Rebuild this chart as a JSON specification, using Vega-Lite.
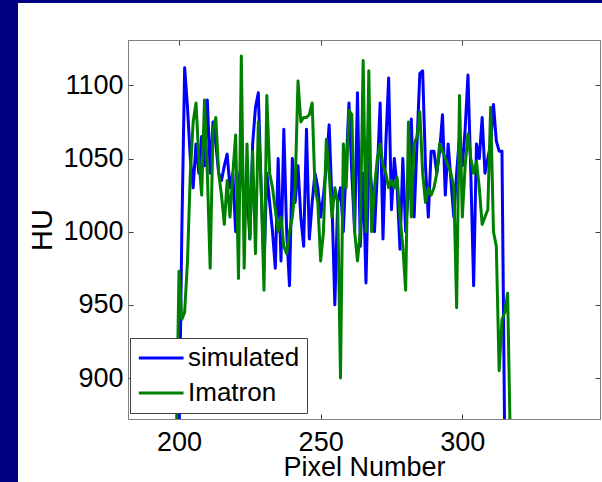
{
  "$schema": "https://vega.github.io/schema/vega-lite/v6.json",
  "padding": 0,
  "background": "white",
  "spacing": 0,
  "config": {
    "font": "Liberation Sans",
    "view": {"stroke": "#808080", "strokeWidth": 1}
  },
  "vconcat": [
    {
      "width": 602,
      "height": 3,
      "view": {"fill": "#000080", "stroke": null},
      "data": {"values": []},
      "mark": "point"
    },
    {
      "spacing": 9,
      "hconcat": [
        {
          "width": 18,
          "height": 479,
          "view": {"fill": "#000080", "stroke": null},
          "data": {"values": []},
          "mark": "point"
        },
        {
          "spacing": 0,
          "vconcat": [
            {
              "width": 10,
              "height": 36,
              "view": {"fill": null, "stroke": null},
              "data": {"values": []},
              "mark": "point"
            },
            {
              "width": 472,
              "height": 379,
              "view": {"stroke": "#808080", "fill": "white"},
              "data": {"values": [
{"x":200,"HU":855,"series":"simulated"},{"x":201,"HU":1000,"series":"simulated"},{"x":202,"HU":1112,"series":"simulated"},{"x":203,"HU":1085,"series":"simulated"},{"x":204,"HU":1050,"series":"simulated"},{"x":205,"HU":1030,"series":"simulated"},{"x":206,"HU":1060,"series":"simulated"},{"x":207,"HU":1040,"series":"simulated"},{"x":208,"HU":1065,"series":"simulated"},{"x":209,"HU":1045,"series":"simulated"},{"x":210,"HU":1090,"series":"simulated"},{"x":211,"HU":1040,"series":"simulated"},{"x":212,"HU":1075,"series":"simulated"},{"x":213,"HU":1060,"series":"simulated"},{"x":214,"HU":1040,"series":"simulated"},{"x":215,"HU":1035,"series":"simulated"},{"x":216,"HU":1045,"series":"simulated"},{"x":217,"HU":1053,"series":"simulated"},{"x":218,"HU":1030,"series":"simulated"},{"x":219,"HU":1040,"series":"simulated"},{"x":220,"HU":1000,"series":"simulated"},{"x":221,"HU":1035,"series":"simulated"},{"x":222,"HU":1045,"series":"simulated"},{"x":223,"HU":1020,"series":"simulated"},{"x":224,"HU":1030,"series":"simulated"},{"x":225,"HU":995,"series":"simulated"},{"x":226,"HU":1060,"series":"simulated"},{"x":227,"HU":1085,"series":"simulated"},{"x":228,"HU":1095,"series":"simulated"},{"x":229,"HU":1030,"series":"simulated"},{"x":230,"HU":975,"series":"simulated"},{"x":231,"HU":1040,"series":"simulated"},{"x":232,"HU":1020,"series":"simulated"},{"x":233,"HU":1000,"series":"simulated"},{"x":234,"HU":975,"series":"simulated"},{"x":235,"HU":1050,"series":"simulated"},{"x":236,"HU":980,"series":"simulated"},{"x":237,"HU":1070,"series":"simulated"},{"x":238,"HU":1000,"series":"simulated"},{"x":239,"HU":963,"series":"simulated"},{"x":240,"HU":1050,"series":"simulated"},{"x":241,"HU":1020,"series":"simulated"},{"x":242,"HU":1045,"series":"simulated"},{"x":243,"HU":1010,"series":"simulated"},{"x":244,"HU":990,"series":"simulated"},{"x":245,"HU":1070,"series":"simulated"},{"x":246,"HU":995,"series":"simulated"},{"x":247,"HU":1020,"series":"simulated"},{"x":248,"HU":1040,"series":"simulated"},{"x":249,"HU":1030,"series":"simulated"},{"x":250,"HU":1010,"series":"simulated"},{"x":251,"HU":1025,"series":"simulated"},{"x":252,"HU":1045,"series":"simulated"},{"x":253,"HU":1073,"series":"simulated"},{"x":254,"HU":1020,"series":"simulated"},{"x":255,"HU":950,"series":"simulated"},{"x":256,"HU":1020,"series":"simulated"},{"x":257,"HU":1030,"series":"simulated"},{"x":258,"HU":1000,"series":"simulated"},{"x":259,"HU":1045,"series":"simulated"},{"x":260,"HU":1088,"series":"simulated"},{"x":261,"HU":1040,"series":"simulated"},{"x":262,"HU":1000,"series":"simulated"},{"x":263,"HU":1095,"series":"simulated"},{"x":264,"HU":990,"series":"simulated"},{"x":265,"HU":1040,"series":"simulated"},{"x":266,"HU":965,"series":"simulated"},{"x":267,"HU":1050,"series":"simulated"},{"x":268,"HU":1030,"series":"simulated"},{"x":269,"HU":1000,"series":"simulated"},{"x":270,"HU":1040,"series":"simulated"},{"x":271,"HU":1088,"series":"simulated"},{"x":272,"HU":995,"series":"simulated"},{"x":273,"HU":1060,"series":"simulated"},{"x":274,"HU":1105,"series":"simulated"},{"x":275,"HU":1015,"series":"simulated"},{"x":276,"HU":1050,"series":"simulated"},{"x":277,"HU":1030,"series":"simulated"},{"x":278,"HU":988,"series":"simulated"},{"x":279,"HU":1050,"series":"simulated"},{"x":280,"HU":1000,"series":"simulated"},{"x":281,"HU":1030,"series":"simulated"},{"x":282,"HU":1077,"series":"simulated"},{"x":283,"HU":1010,"series":"simulated"},{"x":284,"HU":1060,"series":"simulated"},{"x":285,"HU":1108,"series":"simulated"},{"x":286,"HU":1110,"series":"simulated"},{"x":287,"HU":1045,"series":"simulated"},{"x":288,"HU":1010,"series":"simulated"},{"x":289,"HU":1055,"series":"simulated"},{"x":290,"HU":1055,"series":"simulated"},{"x":291,"HU":1040,"series":"simulated"},{"x":292,"HU":1055,"series":"simulated"},{"x":293,"HU":1080,"series":"simulated"},{"x":294,"HU":1025,"series":"simulated"},{"x":295,"HU":1060,"series":"simulated"},{"x":296,"HU":1035,"series":"simulated"},{"x":297,"HU":1010,"series":"simulated"},{"x":298,"HU":1040,"series":"simulated"},{"x":299,"HU":1065,"series":"simulated"},{"x":300,"HU":1045,"series":"simulated"},{"x":301,"HU":1070,"series":"simulated"},{"x":302,"HU":1107,"series":"simulated"},{"x":303,"HU":1040,"series":"simulated"},{"x":304,"HU":963,"series":"simulated"},{"x":305,"HU":1060,"series":"simulated"},{"x":306,"HU":1050,"series":"simulated"},{"x":307,"HU":1078,"series":"simulated"},{"x":308,"HU":1040,"series":"simulated"},{"x":309,"HU":1050,"series":"simulated"},{"x":310,"HU":1060,"series":"simulated"},{"x":311,"HU":1087,"series":"simulated"},{"x":312,"HU":1062,"series":"simulated"},{"x":313,"HU":1055,"series":"simulated"},{"x":314,"HU":1055,"series":"simulated"},{"x":315,"HU":850,"series":"simulated"},
{"x":199,"HU":850,"series":"Imatron"},{"x":200,"HU":973,"series":"Imatron"},{"x":201,"HU":940,"series":"Imatron"},{"x":202,"HU":945,"series":"Imatron"},{"x":203,"HU":980,"series":"Imatron"},{"x":204,"HU":1040,"series":"Imatron"},{"x":205,"HU":1075,"series":"Imatron"},{"x":206,"HU":1088,"series":"Imatron"},{"x":207,"HU":1050,"series":"Imatron"},{"x":208,"HU":1025,"series":"Imatron"},{"x":209,"HU":1090,"series":"Imatron"},{"x":210,"HU":1040,"series":"Imatron"},{"x":211,"HU":975,"series":"Imatron"},{"x":212,"HU":1070,"series":"Imatron"},{"x":213,"HU":1078,"series":"Imatron"},{"x":214,"HU":1040,"series":"Imatron"},{"x":215,"HU":1025,"series":"Imatron"},{"x":216,"HU":1005,"series":"Imatron"},{"x":217,"HU":1035,"series":"Imatron"},{"x":218,"HU":1010,"series":"Imatron"},{"x":219,"HU":1040,"series":"Imatron"},{"x":220,"HU":1066,"series":"Imatron"},{"x":221,"HU":968,"series":"Imatron"},{"x":222,"HU":1120,"series":"Imatron"},{"x":223,"HU":975,"series":"Imatron"},{"x":224,"HU":1060,"series":"Imatron"},{"x":225,"HU":995,"series":"Imatron"},{"x":226,"HU":1055,"series":"Imatron"},{"x":227,"HU":985,"series":"Imatron"},{"x":228,"HU":1075,"series":"Imatron"},{"x":229,"HU":1030,"series":"Imatron"},{"x":230,"HU":960,"series":"Imatron"},{"x":231,"HU":1093,"series":"Imatron"},{"x":232,"HU":1040,"series":"Imatron"},{"x":233,"HU":1030,"series":"Imatron"},{"x":234,"HU":1015,"series":"Imatron"},{"x":235,"HU":1000,"series":"Imatron"},{"x":236,"HU":1010,"series":"Imatron"},{"x":237,"HU":990,"series":"Imatron"},{"x":238,"HU":985,"series":"Imatron"},{"x":239,"HU":1000,"series":"Imatron"},{"x":240,"HU":1010,"series":"Imatron"},{"x":241,"HU":1030,"series":"Imatron"},{"x":242,"HU":1103,"series":"Imatron"},{"x":243,"HU":1075,"series":"Imatron"},{"x":244,"HU":1078,"series":"Imatron"},{"x":245,"HU":1078,"series":"Imatron"},{"x":246,"HU":1080,"series":"Imatron"},{"x":247,"HU":1088,"series":"Imatron"},{"x":248,"HU":1030,"series":"Imatron"},{"x":249,"HU":1020,"series":"Imatron"},{"x":250,"HU":980,"series":"Imatron"},{"x":251,"HU":1000,"series":"Imatron"},{"x":252,"HU":1063,"series":"Imatron"},{"x":253,"HU":1040,"series":"Imatron"},{"x":254,"HU":1010,"series":"Imatron"},{"x":255,"HU":1030,"series":"Imatron"},{"x":256,"HU":1020,"series":"Imatron"},{"x":257,"HU":900,"series":"Imatron"},{"x":258,"HU":1060,"series":"Imatron"},{"x":259,"HU":1030,"series":"Imatron"},{"x":260,"HU":1083,"series":"Imatron"},{"x":261,"HU":1080,"series":"Imatron"},{"x":262,"HU":1000,"series":"Imatron"},{"x":263,"HU":980,"series":"Imatron"},{"x":264,"HU":1000,"series":"Imatron"},{"x":265,"HU":1117,"series":"Imatron"},{"x":266,"HU":1000,"series":"Imatron"},{"x":267,"HU":1110,"series":"Imatron"},{"x":268,"HU":1000,"series":"Imatron"},{"x":269,"HU":1030,"series":"Imatron"},{"x":270,"HU":1050,"series":"Imatron"},{"x":271,"HU":1060,"series":"Imatron"},{"x":272,"HU":1045,"series":"Imatron"},{"x":273,"HU":1040,"series":"Imatron"},{"x":274,"HU":1030,"series":"Imatron"},{"x":275,"HU":1035,"series":"Imatron"},{"x":276,"HU":1030,"series":"Imatron"},{"x":277,"HU":1037,"series":"Imatron"},{"x":278,"HU":1010,"series":"Imatron"},{"x":279,"HU":990,"series":"Imatron"},{"x":280,"HU":960,"series":"Imatron"},{"x":281,"HU":1075,"series":"Imatron"},{"x":282,"HU":1010,"series":"Imatron"},{"x":283,"HU":1060,"series":"Imatron"},{"x":284,"HU":1065,"series":"Imatron"},{"x":285,"HU":1082,"series":"Imatron"},{"x":286,"HU":1040,"series":"Imatron"},{"x":287,"HU":1020,"series":"Imatron"},{"x":288,"HU":1030,"series":"Imatron"},{"x":289,"HU":1025,"series":"Imatron"},{"x":290,"HU":1030,"series":"Imatron"},{"x":291,"HU":1040,"series":"Imatron"},{"x":292,"HU":1060,"series":"Imatron"},{"x":293,"HU":1055,"series":"Imatron"},{"x":294,"HU":1050,"series":"Imatron"},{"x":295,"HU":1045,"series":"Imatron"},{"x":296,"HU":1040,"series":"Imatron"},{"x":297,"HU":1030,"series":"Imatron"},{"x":298,"HU":948,"series":"Imatron"},{"x":299,"HU":1093,"series":"Imatron"},{"x":300,"HU":1010,"series":"Imatron"},{"x":301,"HU":1045,"series":"Imatron"},{"x":302,"HU":1067,"series":"Imatron"},{"x":303,"HU":1050,"series":"Imatron"},{"x":304,"HU":1040,"series":"Imatron"},{"x":305,"HU":1048,"series":"Imatron"},{"x":306,"HU":1030,"series":"Imatron"},{"x":307,"HU":1005,"series":"Imatron"},{"x":308,"HU":1010,"series":"Imatron"},{"x":309,"HU":1015,"series":"Imatron"},{"x":310,"HU":1085,"series":"Imatron"},{"x":311,"HU":1000,"series":"Imatron"},{"x":312,"HU":990,"series":"Imatron"},{"x":313,"HU":905,"series":"Imatron"},{"x":314,"HU":940,"series":"Imatron"},{"x":315,"HU":945,"series":"Imatron"},{"x":316,"HU":958,"series":"Imatron"},{"x":317,"HU":850,"series":"Imatron"}
              ]},
              "layer": [
                {
                  "mark": {"type": "line", "strokeWidth": 3, "strokeJoin": "round", "clip": true},
                  "encoding": {
                    "x": {"field": "x", "type": "quantitative",
                      "scale": {"domain": [182, 348.6], "nice": false, "zero": false},
                      "axis": {"orient": "bottom", "values": [200, 250, 300], "grid": false, "format": "d",
                        "title": "Pixel Number", "titleFontSize": 27, "titleFontWeight": "normal", "titleColor": "#000", "titleFont": "Liberation Sans",
                        "titlePadding": 2, "minExtent": 33, "maxExtent": 33,
                        "labelFontSize": 27, "labelColor": "#000", "labelFont": "Liberation Sans", "labelPadding": 15,
                        "tickSize": -5, "tickColor": "#404040", "domainColor": "#808080"}},
                    "y": {"field": "HU", "type": "quantitative",
                      "scale": {"domain": [872, 1131], "nice": false, "zero": false},
                      "axis": {"orient": "left", "values": [900, 950, 1000, 1050, 1100], "grid": false, "format": "d",
                        "title": "HU", "titleFontSize": 29, "titleFontWeight": "normal", "titleColor": "#000", "titleFont": "Liberation Sans",
                        "titlePadding": 7, "minExtent": 64, "maxExtent": 64,
                        "labelFontSize": 27, "labelColor": "#000", "labelFont": "Liberation Sans", "labelPadding": 10,
                        "tickSize": -5, "tickColor": "#404040", "domainColor": "#808080"}},
                    "color": {"field": "series", "type": "nominal",
                      "scale": {"domain": ["simulated", "Imatron"], "range": ["#0000ff", "#008000"]},
                      "legend": {"orient": "none", "legendX": 130, "legendY": 338, "title": null,
                        "fillColor": "white", "strokeColor": "#404040", "padding": 7, "rowPadding": 9,
                        "labelFontSize": 26, "labelFont": "Liberation Sans", "labelColor": "#000", "labelOffset": 25,
                        "symbolType": "M-1,0H3", "symbolSize": 500, "symbolStrokeWidth": 3}}
                  }
                },
                {
                  "transform": [{"filter": "datum.x == 250"}],
                  "mark": {"type": "point", "opacity": 0, "clip": true},
                  "encoding": {
                    "x": {"field": "x", "type": "quantitative",
                      "axis": {"orient": "top", "values": [200, 250, 300], "labels": false, "title": null, "grid": false,
                        "tickSize": -5, "tickColor": "#404040", "domainColor": "#808080", "minExtent": 0, "maxExtent": 0}},
                    "y": {"field": "HU", "type": "quantitative",
                      "axis": {"orient": "right", "values": [900, 950, 1000, 1050, 1100], "labels": false, "title": null, "grid": false,
                        "tickSize": -5, "tickColor": "#404040", "domainColor": "#808080", "minExtent": 0, "maxExtent": 0}}
                  }
                }
              ],
              "resolve": {"axis": {"x": "independent", "y": "independent"}}
            }
          ]
        }
      ]
    }
  ]
}
